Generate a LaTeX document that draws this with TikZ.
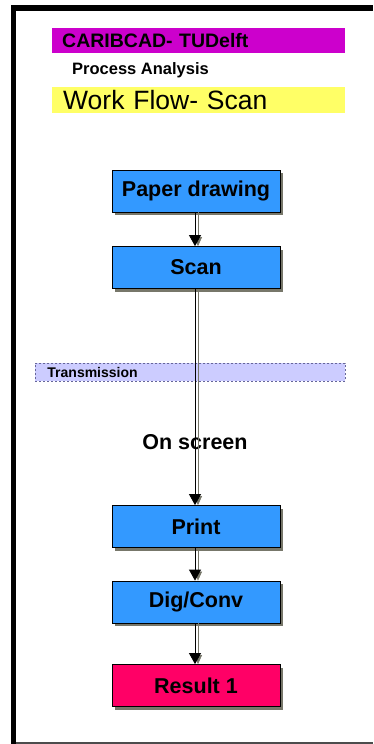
\documentclass[tikz,border=0pt]{standalone}
\usepackage{fontspec}
\setmainfont{Liberation Sans}
\usetikzlibrary{arrows.meta,shadows}
\definecolor{boxblue}{HTML}{3399FF}
\definecolor{resultred}{HTML}{FF0066}
\definecolor{barmagenta}{HTML}{CC00CC}
\definecolor{baryellow}{HTML}{FFFF66}
\definecolor{transfill}{HTML}{CCCCFF}
\definecolor{transline}{HTML}{666699}
\definecolor{shadowgray}{HTML}{77776A}
\tikzset{
  flowbox/.style={rectangle, draw=black, line width=0.8pt, fill=boxblue,
    minimum width=168pt, minimum height=42pt, inner sep=0pt,
    font=\bfseries\fontsize{21.5}{25}\selectfont,
    drop shadow={shadow xshift=3pt, shadow yshift=-3pt, fill=shadowgray, opacity=1}},
  flowarrow/.style={draw=black, line width=0.8pt, -{Triangle[width=12pt,length=11pt]}},
  arrowshadow/.style={draw=shadowgray, fill=shadowgray, line width=0.6pt, -{Triangle[width=8pt,length=9pt]}},
  headbar/.style={rectangle, anchor=north west, align=left, inner ysep=0pt}
}
\begin{document}
\begin{tikzpicture}[x=1pt,y=-1pt]
\useasboundingbox (0,0) rectangle (373,744);
\fill[white] (0,0) rectangle (373,744);
% frame
\fill[black] (11,5) rectangle (373,11);
\fill[black] (11,5) rectangle (16,744);
\draw[gray!60!black, line width=1.2pt] (16,743) -- (373,743);
% header
\node[headbar, fill=barmagenta, minimum height=25pt, text width=273pt, inner xsep=10pt,
  font=\bfseries\fontsize{19.5}{22}\selectfont] (title) at (52,28) {CARIBCAD- TUDelft};
\node[anchor=west, inner sep=0pt, font=\bfseries\fontsize{16.5}{19}\selectfont] (proc) at (72,70) {Process Analysis};
\node[headbar, fill=baryellow, minimum height=26pt, text width=271pt, inner xsep=11pt,
  font=\fontsize{26.5}{30}\selectfont] (wf) at (52,87) {Work Flow- Scan};
% transmission band
\node[headbar, fill=transfill, draw=transline, dash pattern=on 2pt off 2pt, line width=0.9pt, minimum height=18pt,
  text width=286pt, inner xsep=12pt, font=\bfseries\fontsize{14}{16}\selectfont] (trans) at (35,363) {Transmission};
% boxes
\node[flowbox] (paper) at (196,191) {Paper drawing};
\node[flowbox] (scan) at (196,267.5) {Scan};
\node[flowbox] (print) at (196,526.5) {Print};
\node[flowbox] (dig) at (196,602) {Dig/Conv};
\node[flowbox, fill=resultred] (result) at (196,685.5) {Result 1};
\node[font=\bfseries\fontsize{21.5}{24}\selectfont, inner sep=0pt] (screen) at (195,442) {On screen};
% connectors
\foreach \a/\b in {paper/scan, scan/print, print/dig, dig/result}{
  \draw[arrowshadow] ([xshift=2pt]\a.south) -- ([xshift=2pt]\b.north);
  \draw[flowarrow] ([xshift=-1pt]\a.south) -- ([xshift=-1pt]\b.north);
}
\end{tikzpicture}
\end{document}
